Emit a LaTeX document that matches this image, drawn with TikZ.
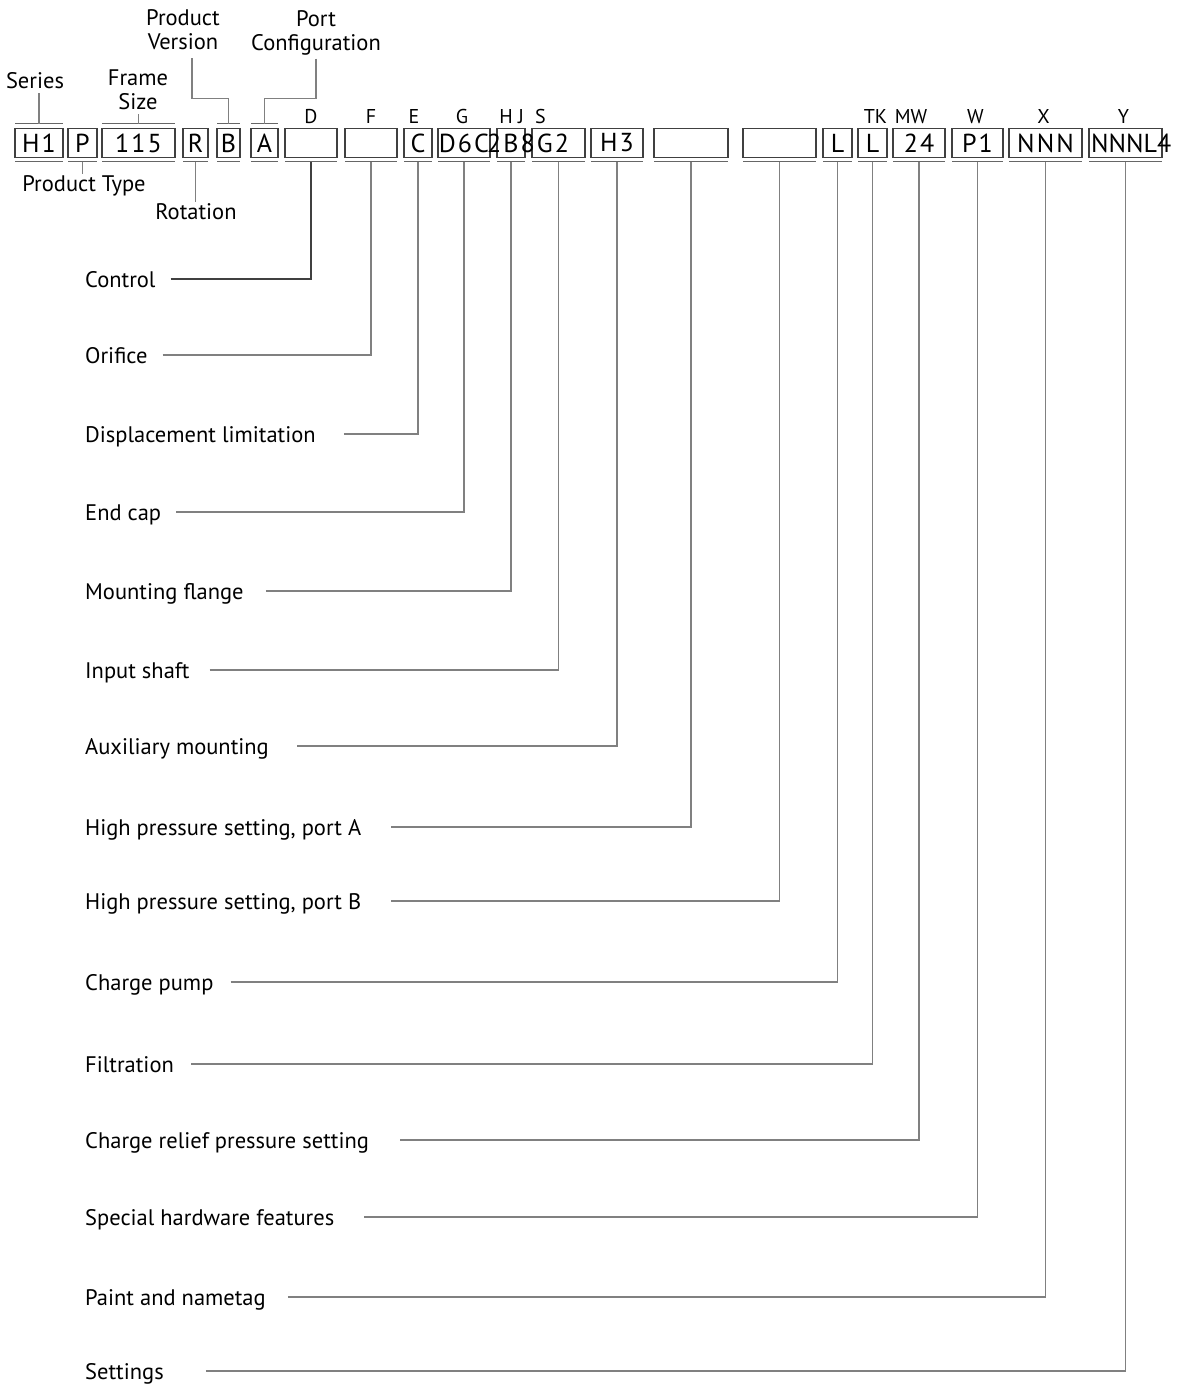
\documentclass[tikz,border=0pt]{standalone}
\usepackage{fontspec}
\setmainfont{PT Sans}
\newfontfamily\codefont[LetterSpace=8]{PT Sans}
\usetikzlibrary{positioning}

\begin{document}
\begin{tikzpicture}[x=1pt, y=-1pt, node distance=6pt,
  codebox/.style={draw=black!75, line width=1.4pt, outer sep=0pt, minimum height=29pt, inner sep=0pt, text width=#1, align=center, font=\codefont\fontsize{26}{30}\selectfont},
  codetxt/.style={inner sep=0pt, font=\codefont\fontsize{26}{30}\selectfont},
  lbl/.style={inner sep=0pt, anchor=west, text height=16pt, text depth=0pt, font=\fontsize{22.5}{27}\selectfont},
  tag/.style={inner sep=0pt, align=center, font=\fontsize{22.5}{24}\selectfont},
  letter/.style={inner sep=0pt, text depth=0pt, font=\fontsize{20}{24}\selectfont},
  lead/.style={draw=black!50, line width=1.3pt},
  uline/.style={draw=black!60, line width=1.6pt}]
\useasboundingbox (0,0) rectangle (1176,1384);
% code boxes
\node[codebox=48pt, anchor=west] (h1) at (15,143) {H1};
\node[codebox=29pt, right=5pt of h1] (p) {P};
\node[codebox=73pt, right=5pt of p] (fs) {115};
\node[codebox=25pt, right=8pt of fs] (rot) {R};
\node[codebox=23pt, right=9pt of rot] (ver) {B};
\node[codebox=27pt, right=11pt of ver] (port) {A};
\node[codebox=52pt, right=7pt of port] (ctrl) {};
\node[codebox=52pt, right=8pt of ctrl] (orf) {};
\node[codebox=28pt, right=7pt of orf] (dsp) {C};
\node[codebox=52pt, right=6pt of dsp] (ecap) {D6C};
\node[codebox=28pt, right=7pt of ecap] (mflg) {};
\node[codebox=53pt, right=7pt of mflg] (shft) {};
\node[codebox=52pt, right=6pt of shft] (aux) {H3};
\node[codebox=74pt, right=11pt of aux] (hpa) {};
\node[codebox=73pt, right=15pt of hpa] (hpb) {};
\node[codebox=29pt, right=7pt of hpb] (chp) {L};
\node[codebox=29pt, right=6pt of chp] (flt) {L};
\node[codebox=52pt, right=6pt of flt] (crp) {24};
\node[codebox=51pt, right=7pt of crp] (shw) {P1};
\node[codebox=73pt, right=6pt of shw] (pnt) {NNN};
\node[codebox=73pt, right=7pt of pnt] (set) {};
% texts running over the box edges
\node[codetxt, anchor=west] (hjtxt) at ([xshift=-10pt]mflg.west) {2B8G2};
\node[codetxt, anchor=west, font=\fontsize{26}{30}\selectfont] (ytxt) at ([xshift=2pt]set.west) {NNNL4};
% underlines and overlines
\foreach \b in {h1,p,fs,rot,ver,port,ctrl,orf,dsp,ecap,mflg,shft,aux,hpa,hpb,chp,flt,crp,shw,pnt,set}
  \draw[uline] ([yshift=-4pt]\b.south west) -- ([yshift=-4pt]\b.south east);
\foreach \b in {h1,fs,ver,port}
  \draw[uline] ([yshift=5pt]\b.north west) -- ([yshift=5pt]\b.north east);
% letters over the boxes
\node[letter, above=5pt of ctrl] (ld) {D};
\node[letter, above=5pt of orf] (lf) {F};
\node[letter, above=5pt of dsp, xshift=-4pt] (le) {E};
\node[letter, above=5pt of ecap, xshift=-2pt] (lg) {G};
\node[letter, above=5pt of mflg, xshift=-5pt] (lh) {H};
\node[letter, above=5pt of mflg, xshift=10pt] (lj) {J};
\node[letter, above=5pt of shft, xshift=-18pt] (ls) {S};
\node[letter, above=5pt of flt, xshift=3pt] (ltk) {TK};
\node[letter, above=5pt of crp, xshift=-8pt] (lmw) {MW};
\node[letter, above=5pt of shw, xshift=-2pt] (lw) {W};
\node[letter, above=5pt of pnt, xshift=-2pt] (lx) {X};
\node[letter, above=5pt of set, xshift=-2pt] (ly) {Y};
% top tags
\node[tag] (series) at (35,81) {Series};
\draw[lead, shorten <=4pt] (series.south -| h1.north) -- ([yshift=5pt]h1.north);
\node[tag] (fsz) at (138,90) {Frame\\Size};
\draw[lead, shorten <=4pt] (fsz.south -| fs.north) -- ([yshift=5pt]fs.north);
\node[tag] (pver) at (183,30) {Product\\Version};
\draw[lead, shorten <=8pt] ([xshift=9pt]pver.south) |- ([yshift=30pt]ver.north) -- ([yshift=5pt]ver.north);
\node[tag] (pcfg) at (316,33) {Port\\Configuration};
\draw[lead, shorten <=3pt] (pcfg.south) |- ([yshift=30pt]port.north) -- ([yshift=5pt]port.north);
\node[tag] (ptype) at (84,186) {Product Type};
\draw[lead, shorten >=2pt] ([yshift=-4pt]p.south) -- (ptype.north -| p.south);
\node[tag] (rotn) at (196,212) {Rotation};
\draw[lead, shorten >=2pt] ([yshift=-4pt]rot.south) -- (rotn.north -| rot.south);
% option labels
\node[lbl] (ctl) at (85,279) {Control};
\draw[lead, draw=black!75, shorten <=15pt] (ctl.east) -| ([yshift=-4pt]ctrl.south);
\node[lbl] (ori) at (85,355) {Orifice};
\draw[lead, shorten <=15pt] (ori.east) -| ([yshift=-4pt]orf.south);
\node[lbl] (dlim) at (85,434) {Displacement limitation};
\draw[lead, shorten <=28pt] (dlim.east) -| ([yshift=-4pt]dsp.south);
\node[lbl] (ecp) at (85,512) {End cap};
\draw[lead, shorten <=15pt] (ecp.east) -| ([yshift=-4pt]ecap.south);
\node[lbl] (mfl) at (85,591) {Mounting flange};
\draw[lead, shorten <=22pt] (mfl.east) -| ([yshift=-4pt]mflg.south);
\node[lbl] (ish) at (85,670) {Input shaft};
\draw[lead, shorten <=20pt] (ish.east) -| ([yshift=-4pt]shft.south);
\node[lbl] (axm) at (85,746) {Auxiliary mounting};
\draw[lead, shorten <=28pt] (axm.east) -| ([yshift=-4pt]aux.south);
\node[lbl] (hpsa) at (85,827) {High pressure setting, port A};
\draw[lead, shorten <=30pt] (hpsa.east) -| ([yshift=-4pt]hpa.south);
\node[lbl] (hpsb) at (85,901) {High pressure setting, port B};
\draw[lead, shorten <=30pt] (hpsb.east) -| ([yshift=-4pt]hpb.south);
\node[lbl] (cpm) at (85,982) {Charge pump};
\draw[lead, shorten <=17pt] (cpm.east) -| ([yshift=-4pt]chp.south);
\node[lbl] (fil) at (85,1064) {Filtration};
\draw[lead, shorten <=17pt] (fil.east) -| ([yshift=-4pt]flt.south);
\node[lbl] (crs) at (85,1140) {Charge relief pressure setting};
\draw[lead, shorten <=31pt] (crs.east) -| ([yshift=-4pt]crp.south);
\node[lbl] (shf) at (85,1217) {Special hardware features};
\draw[lead, shorten <=30pt] (shf.east) -| ([yshift=-4pt]shw.south);
\node[lbl] (pnn) at (85,1297) {Paint and nametag};
\draw[lead, shorten <=22pt] (pnn.east) -| ([yshift=-4pt]pnt.south);
\node[lbl] (stg) at (85,1371) {Settings};
\draw[lead, shorten <=42pt] (stg.east) -| ([yshift=-4pt]set.south);
\end{tikzpicture}
\end{document}
